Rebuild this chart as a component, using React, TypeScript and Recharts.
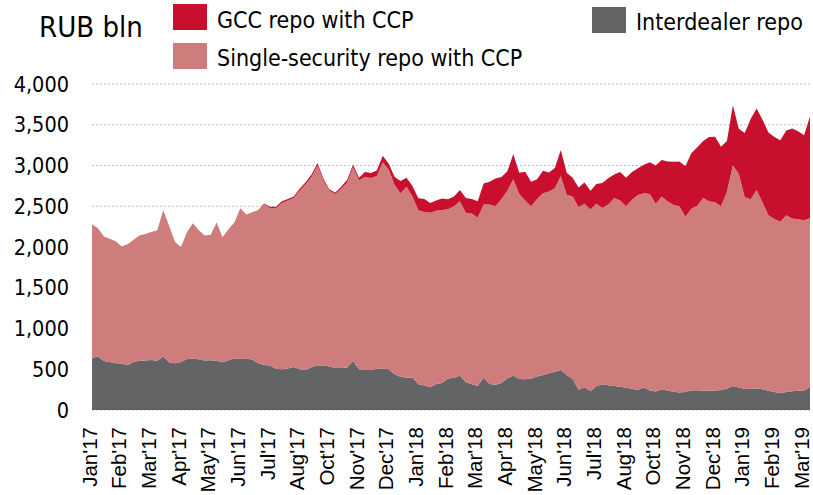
import { AreaChart, Area, XAxis, YAxis, CartesianGrid } from 'recharts'

// month labels under the x axis (the source skips September)
const monthLabels = [
  "Jan'17", "Feb'17", "Mar'17", "Apr'17", "May'17", "Jun'17", "Jul'17", "Aug'17",
  "Oct'17", "Nov'17", "Dec'17", "Jan'18", "Feb'18", "Mar'18", "Apr'18", "May'18",
  "Jun'18", "Jul'18", "Aug'18", "Oct'18", "Nov'18", "Dec'18", "Jan'19", "Feb'19", "Mar'19",
]

// RUB bln, 5 points per label step
const interdealer = [
  634, 660, 600, 590, 575, 570, 548, 590, 605, 606, 612, 605, 655, 585, 575, 590, 625, 630, 624, 606,
  610, 605, 585, 610, 632, 625, 628, 620, 575, 552, 545, 505, 500, 510, 528, 500, 492, 525, 550, 545,
  535, 515, 515, 522, 600, 499, 495, 491, 505, 510, 499, 440, 409, 395, 400, 315, 300, 280, 320, 330,
  385, 395, 420, 340, 315, 295, 395, 320, 310, 330, 390, 420, 380, 377, 385, 410, 430, 450, 470, 490,
  430, 380, 250, 280, 230, 290, 315, 305, 294, 286, 272, 262, 245, 275, 240, 228, 255, 240, 225, 215,
  222, 240, 243, 240, 237, 240, 245, 260, 294, 275, 257, 262, 265, 256, 235, 220, 205, 222, 230, 235,
  240, 278,
]

const singleSecurity = [
  1646, 1570, 1530, 1510, 1495, 1435, 1487, 1500, 1535, 1553, 1573, 1600, 1795, 1675, 1485, 1410, 1555, 1660, 1581, 1534,
  1540, 1695, 1535, 1607, 1668, 1850, 1772, 1805, 1879, 1973, 1935, 1975, 2040, 2060, 2072, 2190, 2278, 2335, 2450, 2275,
  2155, 2135, 2200, 2268, 2380, 2321, 2365, 2357, 2365, 2530, 2451, 2320, 2251, 2345, 2220, 2135, 2130, 2140, 2126, 2124,
  2077, 2105, 2140, 2080, 2095, 2065, 2125, 2200, 2190, 2260, 2300, 2410, 2270, 2193, 2115, 2180, 2230, 2230, 2250, 2380,
  2210, 2240, 2240, 2250, 2230, 2240, 2165, 2215, 2306, 2284, 2228, 2318, 2393, 2384, 2410, 2302, 2365, 2320, 2291, 2285,
  2148, 2230, 2262, 2360, 2323, 2310, 2255, 2419, 2706, 2625, 2353, 2323, 2435, 2294, 2155, 2125, 2106, 2168, 2120, 2104,
  2088, 2074,
]

const gccRepo = [
  0, 0, 0, 0, 0, 0, 0, 0, 0, 0, 0, 0, 0, 0, 0, 0, 0, 0, 0, 0,
  0, 0, 0, 0, 0, 0, 0, 0, 0, 10, 15, 15, 20, 20, 20, 25, 25, 30, 30, 20,
  15, 20, 25, 35, 30, 30, 60, 60, 70, 80, 70, 100, 150, 110, 130, 148, 160, 120, 125, 140,
  123, 120, 140, 180, 180, 200, 260, 280, 340, 270, 240, 310, 260, 354, 300, 240, 276, 235, 250, 320,
  270, 230, 240, 260, 230, 243, 305, 325, 290, 350, 350, 340, 327, 351, 390, 470, 447, 490, 531, 550,
  620, 680, 720, 700, 790, 804, 730, 621, 740, 550, 790, 985, 1000, 1010, 1015, 1005, 1000, 1040, 1105, 1081,
  1042, 1248,
]

const yTicks = [0, 500, 1000, 1500, 2000, 2500, 3000, 3500, 4000]
const POINTS_PER_LABEL = 5

const chartData = interdealer.map((v, i) => ({
  idx: i,
  interdealer: v,
  single: singleSecurity[i],
  gcc: gccRepo[i],
}))

const xTicks = monthLabels.map((_, k) => k * POINTS_PER_LABEL)

const COLORS = {
  gcc: '#C8102E',
  single: '#CF7C7D',
  interdealer: '#636466',
}

const legendFont = "'DejaVu Sans Condensed', 'DejaVu Sans', sans-serif"

function MonthTick({ x, y, payload }: any) {
  const label = monthLabels[Math.round(payload.value / POINTS_PER_LABEL)]
  return (
    <g transform={`translate(${x - 3}, ${y}) rotate(-90)`}>
      <text
        x={0}
        y={0}
        textAnchor="end"
        dominantBaseline="central"
        fontFamily="'Liberation Sans', Arial, sans-serif"
        fontSize={20.5}
        fill="#000"
      >
        {label}
      </text>
    </g>
  )
}

export default function App() {
  return (
    <div style={{ position: 'absolute', left: 0, top: 0, width: 813, height: 495, background: '#fff' }}>
      <AreaChart
        width={813}
        height={495}
        data={chartData}
        margin={{ top: 84, right: 3, bottom: 0, left: 0 }}
      >
        <CartesianGrid vertical={false} stroke="#bdbdbd" strokeDasharray="2 2" />
        <XAxis
          dataKey="idx"
          type="number"
          domain={[0, chartData.length - 1]}
          ticks={xTicks}
          interval={0}
          height={85}
          axisLine={false}
          tickLine={false}
          tickSize={0}
          tickMargin={17}
          tick={<MonthTick />}
        />
        <YAxis
          domain={[0, 4000]}
          ticks={yTicks}
          width={92}
          axisLine={false}
          tickLine={false}
          tickSize={0}
          tickMargin={23}
          tickFormatter={(v) => v.toLocaleString('en-US')}
          tick={{ fontSize: 21.5, fill: '#000', fontFamily: legendFont }}
        />
        <Area
          type="linear"
          dataKey="interdealer"
          stackId="repo"
          stroke="none"
          fill={COLORS.interdealer}
          fillOpacity={1}
          isAnimationActive={false}
        />
        <Area
          type="linear"
          dataKey="single"
          stackId="repo"
          stroke="none"
          fill={COLORS.single}
          fillOpacity={1}
          isAnimationActive={false}
        />
        <Area
          type="linear"
          dataKey="gcc"
          stackId="repo"
          stroke="none"
          fill={COLORS.gcc}
          fillOpacity={1}
          isAnimationActive={false}
        />
      </AreaChart>

      {/* title and legend */}
      <svg
        width={813}
        height={80}
        style={{ position: 'absolute', left: 0, top: 0 }}
        fontFamily={legendFont}
      >
        <text x={39} y={37} fontSize={29} fill="#000">RUB bln</text>
        <rect x={173} y={4} width={34} height={26} fill={COLORS.gcc} />
        <text x={217} y={28} fontSize={23} fill="#000">GCC repo with CCP</text>
        <rect x={173} y={43} width={34} height={26} fill={COLORS.single} />
        <text x={217} y={66} fontSize={23} fill="#000">Single-security repo with CCP</text>
        <rect x={592} y={7} width={34} height={26} fill={COLORS.interdealer} />
        <text x={636} y={30} fontSize={23} fill="#000">Interdealer repo</text>
      </svg>
    </div>
  )
}
